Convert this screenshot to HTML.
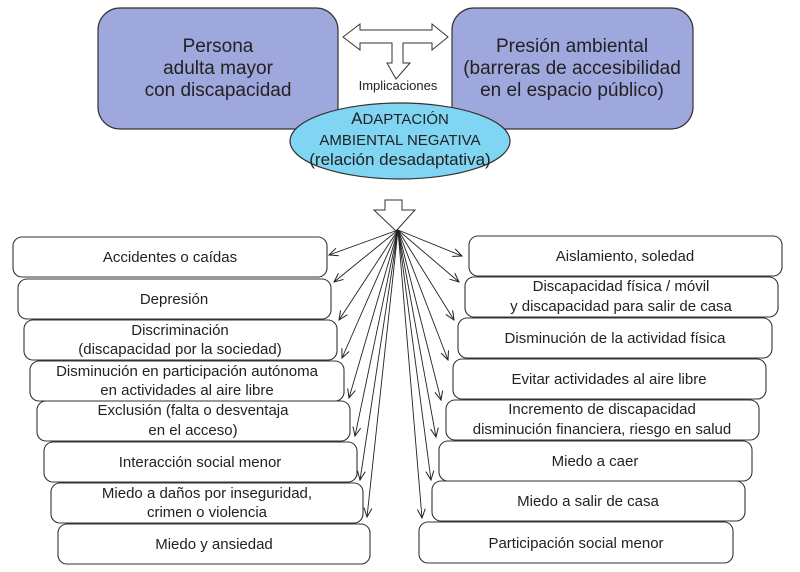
<!DOCTYPE html>
<html><head><meta charset="utf-8"><style>
html,body{margin:0;padding:0;background:#fff;}
svg{display:block;}
text{font-family:"Liberation Sans Narrow","Liberation Sans",sans-serif;fill:#222;}
</style></head><body>
<svg width="800" height="572" viewBox="0 0 800 572" xmlns="http://www.w3.org/2000/svg">
<defs>
<marker id="ah" markerWidth="10" markerHeight="10" refX="9" refY="5" orient="auto" markerUnits="userSpaceOnUse">
<path d="M0,1 L9,5 L0,9" fill="none" stroke="#222" stroke-width="1"/>
</marker>
</defs>
<rect x="98" y="8" width="240" height="121" rx="22" fill="#9ea8dd" stroke="#333" stroke-width="1.2"/>
<rect x="452" y="8" width="241" height="121" rx="22" fill="#9ea8dd" stroke="#333" stroke-width="1.2"/>
<g font-size="19" text-anchor="middle">
<text x="218" y="52">Persona</text>
<text x="218" y="74">adulta mayor</text>
<text x="218" y="96">con discapacidad</text>
<text x="572" y="52">Presión ambiental</text>
<text x="572" y="74">(barreras de accesibilidad</text>
<text x="572" y="96">en el espacio público)</text>
</g>
<path d="M343,37 L360,24 L360,30 L392,30 L392,30 L432,30 L432,24 L448,37 L432,50 L432,43 L403,43 L403,63 L410,63 L396,79 L387,63 L392,63 L392,43 L360,43 L360,50 Z" fill="#fff" stroke="#333" stroke-width="1"/>
<text x="398" y="90" font-size="13" text-anchor="middle">Implicaciones</text>
<ellipse cx="400" cy="141" rx="110" ry="38" fill="#7fd5f2" stroke="#333" stroke-width="1.2"/>
<g text-anchor="middle">
<text x="400" y="124" font-size="15"><tspan font-size="17">A</tspan>DAPTACIÓN</text>
<text x="400" y="145" font-size="15">AMBIENTAL NEGATIVA</text>
<text x="400" y="165" font-size="17">(relación desadaptativa)</text>
</g>
<path d="M385,200 L402,200 L402,210 L415,210 L396,231 L374,210 L385,210 Z" fill="#fff" stroke="#333" stroke-width="1"/>
<g stroke="#333" stroke-width="1.1" fill="#fff">
<rect x="13" y="237" width="314" height="40" rx="9"/>
<rect x="18" y="279" width="313" height="40" rx="9"/>
<rect x="24" y="320" width="313" height="40" rx="9"/>
<rect x="30" y="361" width="314" height="40" rx="9"/>
<rect x="37" y="401" width="313" height="40" rx="9"/>
<rect x="44" y="442" width="313" height="40" rx="9"/>
<rect x="51" y="483" width="312" height="40" rx="9"/>
<rect x="58" y="524" width="312" height="40" rx="9"/>
<rect x="469" y="236" width="313" height="40" rx="9"/>
<rect x="465" y="277" width="313" height="40" rx="9"/>
<rect x="458" y="318" width="314" height="40" rx="9"/>
<rect x="453" y="359" width="313" height="40" rx="9"/>
<rect x="446" y="400" width="313" height="40" rx="9"/>
<rect x="439" y="441" width="313" height="40" rx="9"/>
<rect x="432" y="481" width="313" height="40" rx="9"/>
<rect x="419" y="522" width="314" height="41" rx="9"/>
</g>
<g stroke="#222" stroke-width="0.9" fill="none" marker-end="url(#ah)">
<line x1="398" y1="230" x2="329" y2="255"/>
<line x1="398" y1="230" x2="334" y2="282"/>
<line x1="398" y1="230" x2="339" y2="320"/>
<line x1="398" y1="230" x2="342" y2="358"/>
<line x1="398" y1="230" x2="349" y2="398"/>
<line x1="398" y1="230" x2="355" y2="436"/>
<line x1="398" y1="230" x2="360" y2="480"/>
<line x1="398" y1="230" x2="367" y2="517"/>
<line x1="398" y1="230" x2="462" y2="256"/>
<line x1="398" y1="230" x2="459" y2="282"/>
<line x1="398" y1="230" x2="454" y2="320"/>
<line x1="398" y1="230" x2="448" y2="360"/>
<line x1="398" y1="230" x2="441" y2="400"/>
<line x1="398" y1="230" x2="436" y2="437"/>
<line x1="398" y1="230" x2="431" y2="480"/>
<line x1="398" y1="230" x2="422" y2="518"/>
</g>
<g font-size="15" text-anchor="middle">
<text x="170" y="262">Accidentes o caídas</text>
<text x="174" y="304">Depresión</text>
<text x="180" y="335">Discriminación</text>
<text x="180" y="354">(discapacidad por la sociedad)</text>
<text x="187" y="376">Disminución en participación autónoma</text>
<text x="187" y="395">en actividades al aire libre</text>
<text x="193" y="415">Exclusión (falta o desventaja</text>
<text x="193" y="435">en el acceso)</text>
<text x="200" y="467">Interacción social menor</text>
<text x="207" y="498">Miedo a daños por inseguridad,</text>
<text x="207" y="517">crimen o violencia</text>
<text x="214" y="549">Miedo y ansiedad</text>
<text x="625" y="261">Aislamiento, soledad</text>
<text x="621" y="291">Discapacidad física / móvil</text>
<text x="621" y="311">y discapacidad para salir de casa</text>
<text x="615" y="343">Disminución de la actividad física</text>
<text x="609" y="384">Evitar actividades al aire libre</text>
<text x="602" y="414">Incremento de discapacidad</text>
<text x="602" y="434">disminución financiera, riesgo en salud</text>
<text x="595" y="466">Miedo a caer</text>
<text x="588" y="506">Miedo a salir de casa</text>
<text x="576" y="548">Participación social menor</text>
</g>
</svg>
</body></html>
